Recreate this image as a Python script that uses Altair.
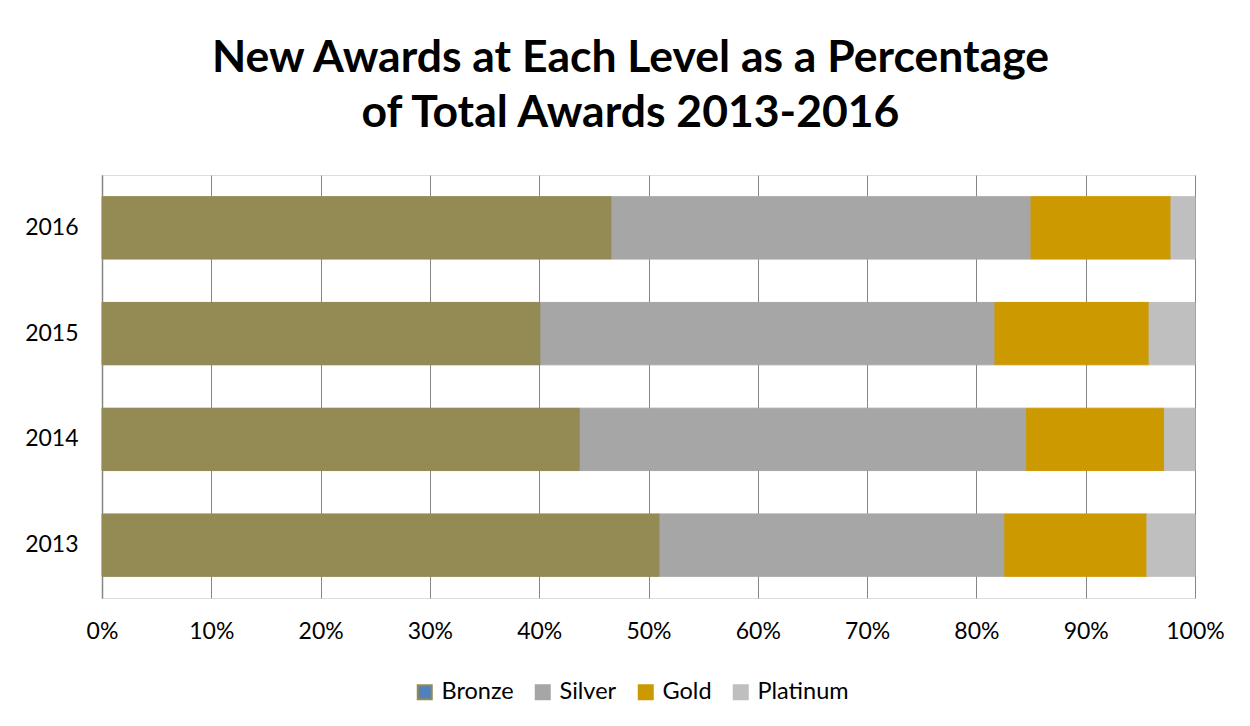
import altair as alt
import pandas as pd

years = ["2013", "2014", "2015", "2016"]
levels = ["Bronze", "Silver", "Gold", "Platinum"]
bronze = [51.0, 43.7, 40.1, 46.6]
silver = [31.6, 40.9, 41.6, 38.4]
gold = [13.0, 12.6, 14.1, 12.8]
platinum = [4.4, 2.8, 4.2, 2.2]
x_ticks = [0, 10, 20, 30, 40, 50, 60, 70, 80, 90, 100]

legend_fill = ["#4F81BD", "#A6A6A6", "#CC9900", "#BFBFBF"]
bar_colors = ["#948A54", "#A6A6A6", "#CC9900", "#BFBFBF"]

rows = []
for i, y in enumerate(years):
    for j, (lvl, series) in enumerate(zip(levels, [bronze, silver, gold, platinum])):
        rows.append({"year": y, "level": lvl, "pct": series[i], "ord": j})
df = pd.DataFrame(rows)

FONT = "Lato"

x_enc = alt.X(
    "pct:Q",
    stack="zero",
    scale=alt.Scale(domain=[0, 100], nice=False),
    axis=alt.Axis(
        values=x_ticks,
        labelExpr="datum.value + '%'",
        labelFlush=False,
        grid=True,
        gridColor="#868686",
        gridWidth=1,
        domain=False,
        ticks=False,
        labelFontSize=23,
        labelPadding=22,
        labelColor="black",
        labelFont=FONT,
        title=None,
    ),
)
y_enc = alt.Y(
    "year:N",
    sort="descending",
    scale=alt.Scale(paddingInner=0.41, paddingOuter=0.205),
    axis=alt.Axis(
        title=None,
        ticks=False,
        grid=False,
        domainColor="#868686",
        domainWidth=1.5,
        labelFontSize=23,
        labelPadding=24,
        labelColor="black",
        labelFont=FONT,
    ),
)

legend_cfg = dict(
    orient="none",
    legendX=311,
    legendY=505,
    direction="horizontal",
    title=None,
    symbolType="square",
    symbolSize=196,
    symbolStrokeWidth=2,
    labelFontSize=23.5,
    labelFont=FONT,
    labelColor="black",
    columnPadding=17,
    labelOffset=5,
)

base = alt.Chart(df)

bars = base.mark_bar(strokeWidth=1).encode(
    x=x_enc,
    y=y_enc,
    fill=alt.Fill(
        "level:N",
        sort=levels,
        scale=alt.Scale(domain=levels, range=legend_fill),
        legend=alt.Legend(**legend_cfg),
    ),
    stroke=alt.Stroke(
        "level:N",
        sort=levels,
        scale=alt.Scale(domain=levels, range=bar_colors),
        legend=alt.Legend(**legend_cfg),
    ),
    order=alt.Order("ord:Q"),
)

bronze_overlay = base.transform_filter(alt.datum.level == "Bronze").mark_bar(
    fill=bar_colors[0], strokeWidth=0
).encode(x=x_enc, y=y_enc)

chart = (
    alt.layer(bars, bronze_overlay)
    .properties(
        width=1093,
        height=423,
        autosize=alt.AutoSizeParams(type="none"),
        padding={"left": 94, "top": 167, "right": 47, "bottom": 120},
        title=alt.TitleParams(
            text=["New Awards at Each Level as a Percentage", "of Total Awards 2013-2016"],
            fontSize=44.5,
            font=FONT,
            fontWeight="bold",
            color="black",
            anchor="middle",
            dx=-18,
            offset=39,
            lineHeight=55,
        ),
    )
    .configure_view(stroke=None)
    .configure(background="white")
)

chart.save("out.html", embed_options={"renderer": "svg", "actions": False})
